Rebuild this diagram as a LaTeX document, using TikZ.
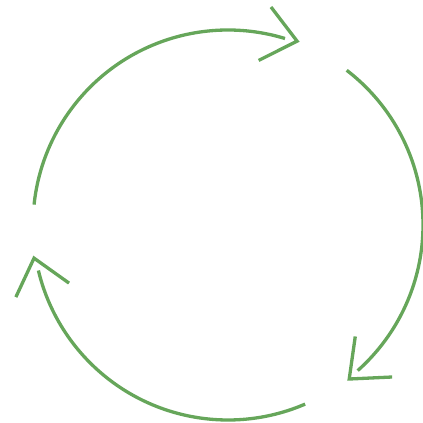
\documentclass[tikz,border=0pt]{standalone}
\usetikzlibrary{calc}
\definecolor{cyclegreen}{RGB}{102,166,90}

\begin{document}
\begin{tikzpicture}[line width=2.35pt]
  \useasboundingbox (0,0) rectangle (10.575,10.575);
  \tikzset{cyclearc/.style={draw=cyclegreen},
    cyclehead/.style={draw=cyclegreen,line join=miter}}
  \coordinate (C) at (5.7,4.95);
  % arc start points
  \coordinate (s1) at ($(C)+(174:4.875)$);
  \coordinate (s2) at ($(C)+(52.5:4.875)$);
  \coordinate (s3) at ($(C)+(-66.7:4.875)$);
  % arrow tips
  \coordinate (t1) at ($(C)+(69.4:4.91)$);
  \coordinate (t2) at ($(C)+(-51.8:4.9)$);
  \coordinate (t3) at ($(C)+(189.7:4.92)$);
  \draw[cyclearc] (s1) arc[start angle=174,end angle=73,radius=4.875];
  \draw[cyclearc] (s2) arc[start angle=52.5,end angle=-48.3,radius=4.875];
  \draw[cyclearc] (s3) arc[start angle=-66.7,end angle=-166.5,radius=4.875];
  \draw[cyclehead] ($(t1)+(127.4:1.075)$) -- (t1) -- ($(t1)+(206.6:1.075)$);
  \draw[cyclehead] ($(t2)+(81.9:1.075)$) -- (t2) -- ($(t2)+(2.7:1.075)$);
  \draw[cyclehead] ($(t3)+(245:1.075)$) -- (t3) -- ($(t3)+(324.5:1.075)$);
\end{tikzpicture}
\end{document}
